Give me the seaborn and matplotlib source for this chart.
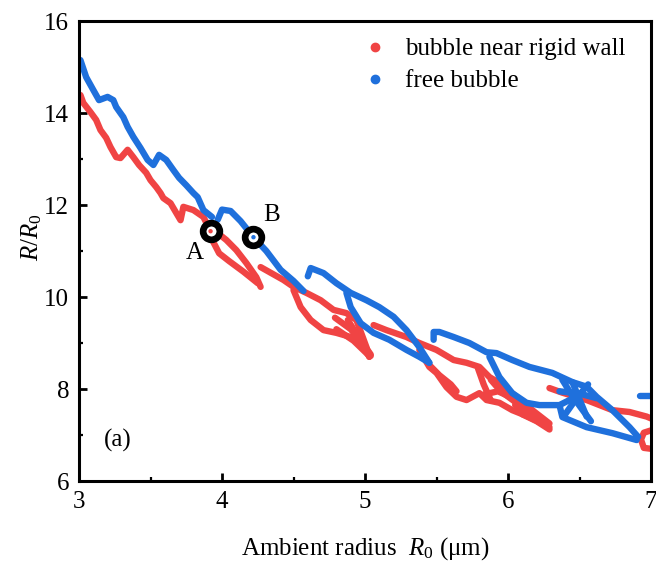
import numpy as np
import pandas as pd
import matplotlib
matplotlib.use("Agg")
import matplotlib.pyplot as plt
from matplotlib.lines import Line2D
import seaborn as sns

# ---- bubble near rigid wall (traced branches of the R/R0 cloud) ----
wall_1_x = [3.01, 3.03, 3.08, 3.12, 3.15, 3.19, 3.22, 3.26, 3.29, 3.34, 3.38, 3.42, 3.47, 3.50,
            3.54, 3.57, 3.59, 3.64, 3.71, 3.73, 3.80, 3.87, 3.92, 3.97, 4.03, 4.10, 4.17, 4.24, 4.27]
wall_1_y = [14.39, 14.22, 14.02, 13.85, 13.63, 13.46, 13.26, 13.04, 13.02, 13.20, 13.04, 12.87, 12.70, 12.54,
            12.39, 12.26, 12.15, 12.04, 11.67, 11.96, 11.89, 11.74, 11.43, 11.39, 11.24, 11.02, 10.74, 10.43, 10.22]
wall_2_x = [3.93, 3.98, 4.05, 4.15, 4.25]
wall_2_y = [11.25, 10.95, 10.78, 10.55, 10.30]
wall_3_x = [4.27, 4.43, 4.50, 4.59, 4.69, 4.78, 4.87, 4.94, 5.01, 5.03]
wall_3_y = [10.65, 10.37, 10.22, 10.09, 9.93, 9.72, 9.65, 9.50, 8.91, 8.70]
wall_4_x = [4.50, 4.55, 4.62, 4.71, 4.80, 4.90, 4.99, 5.03]
wall_4_y = [10.15, 9.78, 9.50, 9.28, 9.22, 9.13, 8.91, 8.70]
wall_5_x = [4.79, 4.90, 4.98, 5.04]
wall_5_y = [9.55, 9.30, 9.00, 8.72]
wall_6_x = [4.88, 4.95, 5.04]
wall_6_y = [9.50, 9.15, 8.75]
wall_7_x = [4.80, 4.92, 5.02]
wall_7_y = [9.30, 9.05, 8.75]
wall_8_x = [5.06, 5.15, 5.29, 5.38, 5.50, 5.62, 5.71, 5.80, 5.87, 5.94, 6.06, 6.17, 6.29]
wall_8_y = [9.39, 9.28, 9.13, 9.00, 8.85, 8.63, 8.57, 8.48, 8.26, 8.13, 7.83, 7.54, 7.25]
wall_9_x = [5.38, 5.45, 5.50, 5.57, 5.64, 5.71, 5.80, 5.85, 5.94, 6.03, 6.15, 6.29]
wall_9_y = [8.85, 8.48, 8.35, 8.04, 7.83, 7.76, 7.91, 7.76, 7.70, 7.54, 7.39, 7.17]
wall_10_x = [5.45, 5.52, 5.60, 5.64]
wall_10_y = [8.52, 8.30, 8.10, 7.95]
wall_11_x = [5.79, 5.83, 5.88]
wall_11_y = [8.45, 8.10, 7.75]
wall_12_x = [5.88, 5.95, 6.05, 6.15]
wall_12_y = [8.20, 7.95, 7.72, 7.48]
wall_13_x = [5.83, 5.93, 6.00]
wall_13_y = [7.88, 7.95, 7.85]
wall_14_x = [6.05, 6.15, 6.27]
wall_14_y = [7.65, 7.45, 7.25]
wall_15_x = [6.10, 6.20, 6.29]
wall_15_y = [7.45, 7.30, 7.12]
wall_16_x = [6.29, 6.38, 6.55, 6.73, 6.85, 6.97, 7.00]
wall_16_y = [8.02, 7.92, 7.76, 7.54, 7.50, 7.40, 7.36]
wall_17_x = [7.00, 6.95, 6.93, 6.95, 7.00]
wall_17_y = [7.10, 7.05, 6.90, 6.72, 6.70]

# ---- free bubble ----
free_1_x = [3.01, 3.05, 3.10, 3.14, 3.20, 3.24, 3.26, 3.31, 3.34, 3.38, 3.43, 3.48, 3.52, 3.56,
            3.61, 3.66, 3.70, 3.75, 3.80, 3.83, 3.87, 3.93]
free_1_y = [15.15, 14.78, 14.50, 14.28, 14.35, 14.28, 14.13, 13.91, 13.70, 13.48, 13.24, 12.98, 12.87, 13.09,
            12.98, 12.76, 12.59, 12.43, 12.26, 12.17, 11.89, 11.74]
free_2_x = [3.97, 4.00, 4.06, 4.13, 4.22, 4.31, 4.41, 4.50, 4.57]
free_2_y = [11.68, 11.90, 11.87, 11.65, 11.30, 11.00, 10.59, 10.35, 10.13]
free_3_x = [4.60, 4.62, 4.71, 4.80, 4.90, 5.01, 5.10, 5.20, 5.29, 5.38, 5.45]
free_3_y = [10.45, 10.63, 10.52, 10.30, 10.09, 9.93, 9.78, 9.57, 9.28, 8.91, 8.57]
free_4_x = [4.87, 4.90, 4.97, 5.06, 5.17, 5.29, 5.38, 5.45]
free_4_y = [10.09, 9.78, 9.43, 9.22, 9.07, 8.85, 8.70, 8.57]
free_5_x = [5.48, 5.48, 5.52, 5.62, 5.73, 5.85, 5.92, 6.03, 6.15, 6.31, 6.45, 6.55, 6.62, 6.73, 6.85, 6.91]
free_5_y = [9.07, 9.24, 9.24, 9.13, 9.00, 8.80, 8.78, 8.63, 8.48, 8.35, 8.15, 8.05, 7.83, 7.54, 7.17, 6.96]
free_6_x = [5.87, 5.94, 6.03, 6.13, 6.22, 6.36, 6.43, 6.50]
free_6_y = [8.70, 8.26, 7.91, 7.70, 7.65, 7.65, 7.76, 7.87]
free_7_x = [6.36, 6.38, 6.55, 6.73, 6.90]
free_7_y = [7.65, 7.39, 7.17, 7.04, 6.89]
free_8_x = [6.38, 6.45, 6.52, 6.58]
free_8_y = [8.20, 7.85, 7.55, 7.30]
free_9_x = [6.40, 6.48, 6.56]
free_9_y = [7.45, 7.80, 8.10]
free_10_x = [6.36, 6.50, 6.62]
free_10_y = [7.95, 7.90, 7.80]
free_11_x = [6.45, 6.55]
free_11_y = [8.15, 7.40]
free_12_x = [6.92, 7.00]
free_12_y = [7.84, 7.84]

# marked states A and B
mark_labels = ["A", "B"]
mark_x = [3.92, 4.22]
mark_y = [11.43, 11.30]

series_names = ["bubble near rigid wall", "free bubble"]
RED = "#F04444"
BLUE = "#1F70DC"

wall_segments = [(wall_1_x, wall_1_y), (wall_2_x, wall_2_y), (wall_3_x, wall_3_y), (wall_4_x, wall_4_y),
                 (wall_5_x, wall_5_y), (wall_6_x, wall_6_y), (wall_7_x, wall_7_y), (wall_8_x, wall_8_y),
                 (wall_9_x, wall_9_y), (wall_10_x, wall_10_y), (wall_11_x, wall_11_y), (wall_12_x, wall_12_y),
                 (wall_13_x, wall_13_y), (wall_14_x, wall_14_y), (wall_15_x, wall_15_y), (wall_16_x, wall_16_y),
                 (wall_17_x, wall_17_y)]
free_segments = [(free_1_x, free_1_y), (free_2_x, free_2_y), (free_3_x, free_3_y), (free_4_x, free_4_y),
                 (free_5_x, free_5_y), (free_6_x, free_6_y), (free_7_x, free_7_y), (free_8_x, free_8_y),
                 (free_9_x, free_9_y), (free_10_x, free_10_y), (free_11_x, free_11_y), (free_12_x, free_12_y)]

rows = []
for name, segs in zip(series_names, [wall_segments, free_segments]):
    for k, (xs, ys) in enumerate(segs):
        for order, (xv, yv) in enumerate(zip(xs, ys)):
            rows.append({"R0": xv, "ratio": yv, "series": name, "seg": f"{name}-{k}", "order": order})
df = pd.DataFrame(rows)

sns.set_theme(style="white")
plt.rcParams["font.family"] = ["Liberation Serif", "DejaVu Serif"]
plt.rcParams["mathtext.fontset"] = "custom"
plt.rcParams["mathtext.rm"] = "Liberation Serif"
plt.rcParams["mathtext.it"] = "Liberation Serif:italic"
for key in ["text.color", "axes.labelcolor", "xtick.color", "ytick.color"]:
    plt.rcParams[key] = "black"

FS = 18

fig = plt.figure(figsize=(6.56, 5.62), dpi=100)
ax = fig.add_axes([79 / 656, 1 - 481 / 562, 572 / 656, 460 / 562])

palette = {series_names[0]: RED, series_names[1]: BLUE}
sns.lineplot(data=df, x="R0", y="ratio", hue="series", units="seg", estimator=None, sort=False,
             palette=palette, linewidth=4.6, legend=False, ax=ax, solid_capstyle="round",
             solid_joinstyle="round")

# ring markers at A and B
ax.scatter(mark_x, mark_y, s=145, facecolor="white", edgecolor="black", linewidth=4.8, zorder=5)
ax.scatter(mark_x, mark_y, s=10, c=[RED, BLUE], zorder=6, linewidth=0)
ax.text(mark_x[0] - 0.11, mark_y[0] - 0.47, mark_labels[0], fontsize=FS, ha="center", va="center")
ax.text(mark_x[1] + 0.13, mark_y[1] + 0.48, mark_labels[1], fontsize=FS, ha="center", va="center")
ax.text(3.27, 6.89, "(a)", fontsize=FS, ha="center", va="center")

ax.set_xlim(3, 7)
ax.set_ylim(6, 16)
ax.set_xticks([3, 4, 5, 6, 7])
ax.set_yticks([6, 8, 10, 12, 14, 16])
ax.set_xticks(np.arange(3.5, 7, 1.0), minor=True)
ax.set_yticks(np.arange(7, 16, 2), minor=True)
ax.tick_params(which="major", direction="in", length=6, width=2, labelsize=FS, pad=7,
               bottom=True, left=True, top=False, right=False, colors="black")
ax.tick_params(which="minor", direction="in", length=3, width=1.6,
               bottom=True, left=True, top=False, right=False)
for sp in ax.spines.values():
    sp.set_linewidth(2.2)
    sp.set_color("black")

ax.set_xlabel(r"Ambient radius  $R_0$ (μm)", fontsize=FS, labelpad=16)
ax.set_ylabel(r"$R/R_0$", fontsize=FS)
ax.yaxis.set_label_coords(-0.062, 0.53)

handles = [Line2D([], [], marker="o", ls="", color=RED, ms=6),
           Line2D([], [], marker="o", ls="", color=BLUE, ms=6)]
ax.legend(handles, series_names, loc="upper left", bbox_to_anchor=(0.456, 0.985), frameon=False,
          fontsize=FS, handletextpad=0.2, labelspacing=0.38, borderaxespad=0.0)

fig.savefig("out.png", dpi=100)
